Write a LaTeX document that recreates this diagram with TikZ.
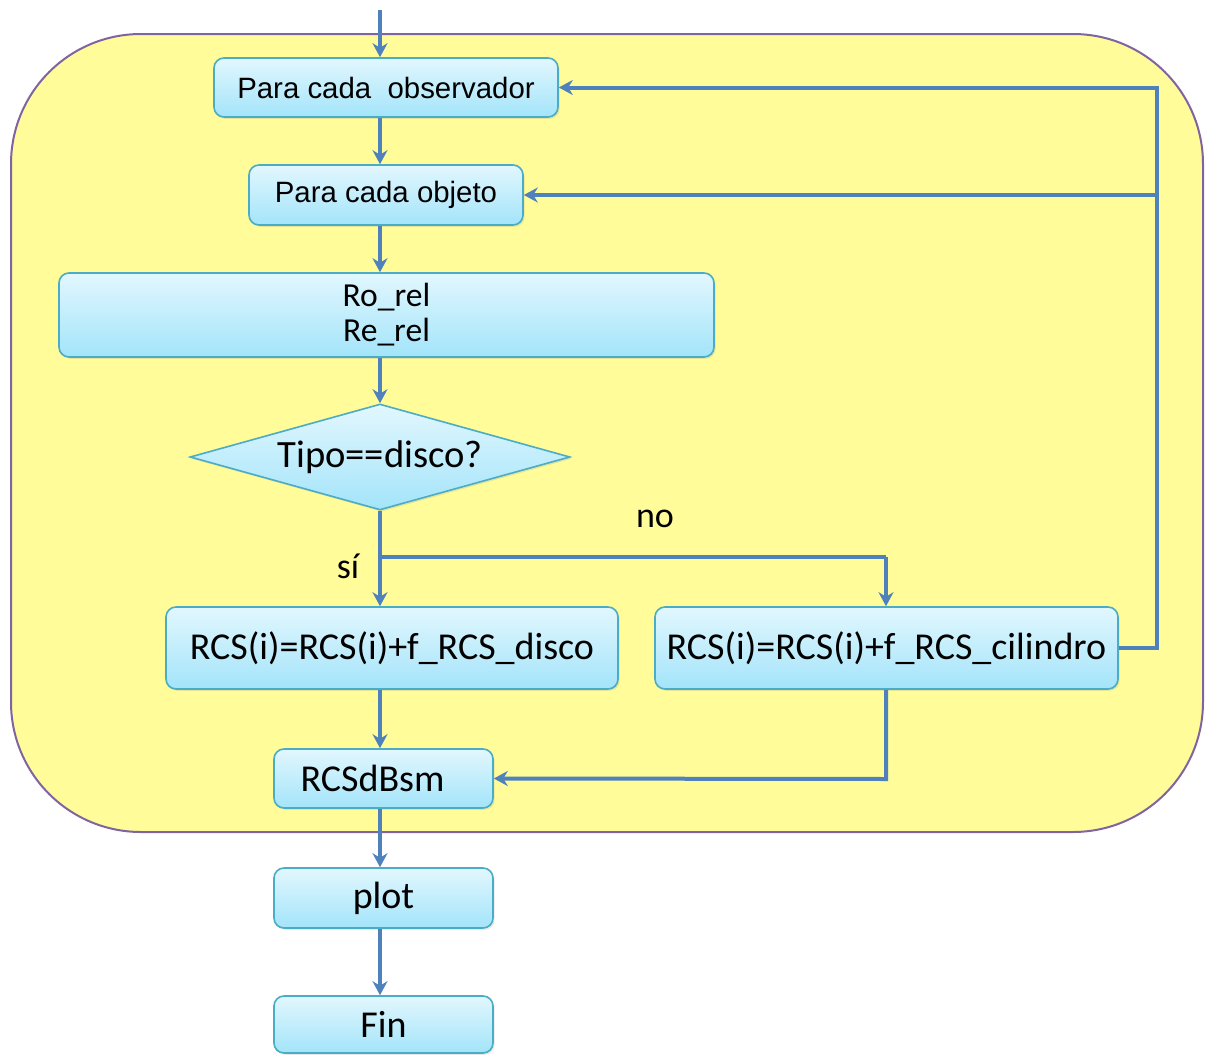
\documentclass[tikz,border=0pt]{standalone}
\usepackage{fontspec}
\setmainfont{Carlito}
\newfontfamily\arialfont{Liberation Sans}
\usetikzlibrary{arrows.meta,shapes.geometric,shadows}
\definecolor{frameFill}{HTML}{FFFC99}
\definecolor{frameLine}{HTML}{8064A2}
\definecolor{flowBlue}{HTML}{4F81BD}
\definecolor{boxTop}{HTML}{E2F7FE}
\definecolor{boxBot}{HTML}{A3E4FA}
\definecolor{boxLine}{HTML}{4BACC6}

\begin{document}
\begin{tikzpicture}[x=0.5pt,y=-0.5pt,
  box/.style={rectangle, rounded corners=5pt, draw=boxLine, line width=0.8pt,
    top color=boxTop, bottom color=boxBot,
    drop shadow={opacity=0.18, shadow xshift=0.8pt, shadow yshift=-0.9pt},
    inner sep=0pt, font=\fontsize{19}{22}\selectfont},
  decision/.style={diamond, aspect=3.58, draw=boxLine, line width=0.8pt,
    top color=boxTop, bottom color=boxBot,
    drop shadow={opacity=0.18, shadow xshift=0.8pt, shadow yshift=-0.9pt},
    inner sep=0pt, minimum width=190pt, minimum height=53pt,
    font=\fontsize{19.3}{22}\selectfont},
  flow/.style={draw=flowBlue, line width=2pt, -{Stealth[length=7pt,width=7.5pt]}},
  link/.style={draw=flowBlue, line width=2pt},
  tag/.style={font=\fontsize{18}{21}\selectfont, inner sep=0pt},
  ]
\useasboundingbox (0,0) rectangle (1212,1055);

% loop region
\draw[draw=frameLine, fill=frameFill, line width=1pt, rounded corners=65pt]
  (11,34) rectangle (1203,832);

% blocks
\node[box, minimum width=172pt, minimum height=29.5pt, font=\arialfont\fontsize{14.7}{17}\selectfont]
  (obs) at (386,87.5) {Para cada\ \ observador};
\node[box, minimum width=137pt, minimum height=30pt, font=\arialfont\fontsize{14.7}{17}\selectfont]
  (obj) at (386,195) {Para cada objeto};
\node[box, minimum width=327.5pt, minimum height=42pt, align=center,
  font=\fontsize{16.8}{17.5}\selectfont]
  (rel) at (386.5,315) {Ro\_rel\\Re\_rel};
\node[decision] (dia) at (380,457) {Tipo==disco?};
\node[box, minimum width=226pt, minimum height=41pt] (disco) at (392,648)
  {RCS(i)=RCS(i)+f\_RCS\_disco};
\node[box, minimum width=231.5pt, minimum height=41pt] (cil) at (886.5,648)
  {RCS(i)=RCS(i)+f\_RCS\_cilindro};
\node[box, minimum width=109.5pt, minimum height=29.5pt] (dbsm) at (383.5,778.5)
  {RCSdBsm\kern11pt\relax};
\node[box, minimum width=109.5pt, minimum height=30pt] (plot) at (383.5,898) {plot};
\node[box, minimum width=109.5pt, minimum height=28.5pt] (fin) at (383.5,1024.5) {Fin};

% branch labels
\node[tag] (no) at (655,519) {no};
\node[tag] (si) at (348,566) {sí};

% helper points
\coordinate (start) at (380,10);
\coordinate (split) at (380,557);
\coordinate (splitR) at (886,557);
\coordinate (backR) at (1157,648);
\coordinate (backTop) at (1157,87.5);
\coordinate (backMid) at (1157,195);
\coordinate (joinR) at (886,779);

% main column
\draw[flow] (start) -- (start |- obs.north);
\draw[flow] (start |- obs.south) -- (start |- obj.north);
\draw[flow] (start |- obj.south) -- (start |- rel.north);
\draw[flow] (start |- rel.south) -- (dia.north);
\draw[flow] (dia.south) -- (dia.south |- disco.north);
\draw[link] (split) -- (splitR);
\draw[flow] (splitR) -- (splitR |- cil.north);
\draw[flow] (start |- disco.south) -- (start |- dbsm.north);
\draw[flow] (start |- dbsm.south) -- (start |- plot.north);
\draw[flow] (start |- plot.south) -- (start |- fin.north);

% loops back
\draw[flow] (cil.east) -- (backR) -- (backTop) -- (obs.east);
\draw[flow] (backMid) -- (obj.east);
\draw[flow] (cil.south -| splitR) -- (joinR) -- (dbsm.east);
\end{tikzpicture}
\end{document}
